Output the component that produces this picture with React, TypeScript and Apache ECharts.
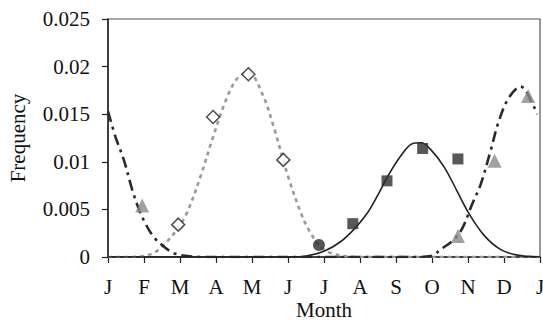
import React, { useEffect, useRef } from "react";
import * as echarts from "echarts";

// Month tick labels (x = 0..12, start of each month)
const monthLabels = ["J", "F", "M", "A", "M", "J", "J", "A", "S", "O", "N", "D", "J"];
const yTicks = [0, 0.005, 0.01, 0.015, 0.02, 0.025];

// Observed points (x in months from 1 Jan, y = frequency)
const triangleX = [0.95, 9.72, 10.74, 11.67];
const triangleY = [0.0054, 0.0022, 0.0101, 0.0169];
const diamondX = [1.95, 2.92, 3.9, 4.87];
const diamondY = [0.0034, 0.0147, 0.0192, 0.0102];
const circleX = [5.86];
const circleY = [0.00126];
const squareX = [6.8, 7.75, 8.74, 9.72];
const squareY = [0.0035, 0.008, 0.0114, 0.0103];

// Fitted curves
const dottedCurveX = [0, 0.6, 1.2, 1.55, 1.9, 2.2, 2.6, 2.9, 3.3, 3.6, 3.9, 4.28, 4.6, 5.0, 5.35, 5.6, 5.95, 6.4, 7, 8, 9, 10, 11, 12];
const dottedCurveY = [0, 0, 0.0003, 0.0013, 0.0028, 0.0047, 0.0088, 0.0124, 0.0167, 0.0188, 0.0194, 0.0172, 0.0137, 0.0085, 0.0047, 0.0027, 0.0009, 0.0002, 0, 0, 0, 0, 0, 0];

const dashDotCurveX = [0, 0.21, 0.44, 0.67, 0.86, 1.04, 1.27, 1.55, 1.83, 2.2, 2.6, 4, 6, 8, 8.5, 8.96, 9.28, 9.6, 9.84, 10.12, 10.35, 10.63, 10.85, 11.13, 11.46, 11.83, 11.92];
const dashDotCurveY = [0.0153, 0.0126, 0.0102, 0.0071, 0.005, 0.0035, 0.0021, 0.0011, 0.0004, 0.0001, 0, 0, 0, 0, 0, 0.0001, 0.0009, 0.0018, 0.003, 0.0056, 0.0076, 0.0112, 0.0142, 0.0167, 0.0179, 0.0158, 0.015];

const solidCurveX = [0, 2, 4, 5, 5.5, 6.0, 6.46, 6.83, 7.2, 7.48, 7.76, 8.13, 8.45, 8.7, 8.96, 9.33, 9.7, 10.02, 10.44, 10.9, 11.37, 12];
const solidCurveY = [0, 0, 0, 0, 0.0001, 0.0006, 0.0016, 0.0029, 0.0046, 0.0064, 0.0084, 0.0106, 0.0119, 0.012, 0.0113, 0.0095, 0.0069, 0.0046, 0.0023, 0.0008, 0.0002, 0];

const zip = (xs: number[], ys: number[]) => xs.map((x, i) => [x, ys[i]]);

const FONT = "'Liberation Serif', 'Times New Roman', serif";
const FS = 21;

export default function App() {
  const ref = useRef<HTMLDivElement>(null);
  useEffect(() => {
    document.body.style.margin = "0";
    if (!ref.current) return;
    const chart = echarts.init(ref.current, undefined, { renderer: "svg" });
    chart.setOption({
      animation: false,
      backgroundColor: "#ffffff",
      grid: {
        left: 108,
        right: 3,
        top: 19,
        bottom: 69,
        containLabel: false,
        outerBoundsMode: "none",
        show: true,
        borderColor: "#555",
        borderWidth: 1.2,
      },
      xAxis: {
        type: "value",
        min: 0,
        max: 12,
        interval: 1,
        name: "Month",
        nameLocation: "middle",
        nameGap: 44,
        nameMoveOverlap: false,
        nameTextStyle: { fontFamily: FONT, fontSize: FS, lineHeight: 17, color: "#111" },
        axisLine: { show: true, onZero: false, lineStyle: { color: "#222", width: 1.5 } },
        axisTick: { show: true, length: 6, inside: false, lineStyle: { color: "#222", width: 1.2 } },
        splitLine: { show: false },
        axisLabel: {
          margin: 21,
          fontFamily: FONT,
          fontSize: FS,
          lineHeight: 17,
          color: "#111",
          formatter: (v: number) => monthLabels[Math.round(v)] ?? "",
        },
      },
      yAxis: {
        type: "value",
        min: 0,
        max: 0.025,
        interval: 0.005,
        name: "Frequency",
        nameLocation: "middle",
        nameGap: 80,
        nameRotate: 90,
        nameMoveOverlap: false,
        nameTextStyle: { fontFamily: FONT, fontSize: FS, color: "#111" },
        axisLine: { show: true, lineStyle: { color: "#222", width: 1.5 } },
        axisTick: { show: true, length: 6, inside: false, lineStyle: { color: "#222", width: 1.2 } },
        splitLine: { show: false },
        axisLabel: {
          margin: 18,
          fontFamily: FONT,
          fontSize: FS,
          color: "#111",
          formatter: (v: number) => {
            const t = yTicks.find((k) => Math.abs(k - v) < 1e-9);
            return t === undefined ? "" : String(t);
          },
        },
      },
      series: [
        {
          type: "line",
          data: zip(dottedCurveX, dottedCurveY),
          smooth: 0.35,
          showSymbol: false,
          symbol: "none",
          lineStyle: { color: "#9a9a9a", width: 2.6, type: [4, 4] },
          z: 2,
        },
        {
          type: "line",
          data: zip(solidCurveX, solidCurveY),
          smooth: 0.35,
          showSymbol: false,
          symbol: "none",
          lineStyle: { color: "#222", width: 1.6, type: "solid" },
          z: 3,
        },
        {
          type: "line",
          data: zip(dashDotCurveX, dashDotCurveY),
          smooth: 0.35,
          showSymbol: false,
          symbol: "none",
          lineStyle: { color: "#2a2a2a", width: 2.6, type: [11, 5, 3, 5] },
          z: 2,
        },
        {
          type: "scatter",
          data: zip(triangleX, triangleY),
          symbol: "triangle",
          symbolSize: 14,
          itemStyle: { color: "#8a8a8a" },
          z: 5,
        },
        {
          type: "scatter",
          data: zip(diamondX, diamondY),
          symbol: "diamond",
          symbolSize: 13,
          itemStyle: { color: "#ffffff", borderColor: "#222", borderWidth: 1.5 },
          z: 5,
        },
        {
          type: "scatter",
          data: zip(circleX, circleY),
          symbol: "circle",
          symbolSize: 12,
          itemStyle: { color: "#2a2a2a" },
          z: 5,
        },
        {
          type: "scatter",
          data: zip(squareX, squareY),
          symbol: "rect",
          symbolSize: 11,
          itemStyle: { color: "#2e2e2e" },
          z: 5,
        },
      ],
    });
    return () => chart.dispose();
  }, []);
  return <div ref={ref} style={{ width: 543, height: 326 }} />;
}
